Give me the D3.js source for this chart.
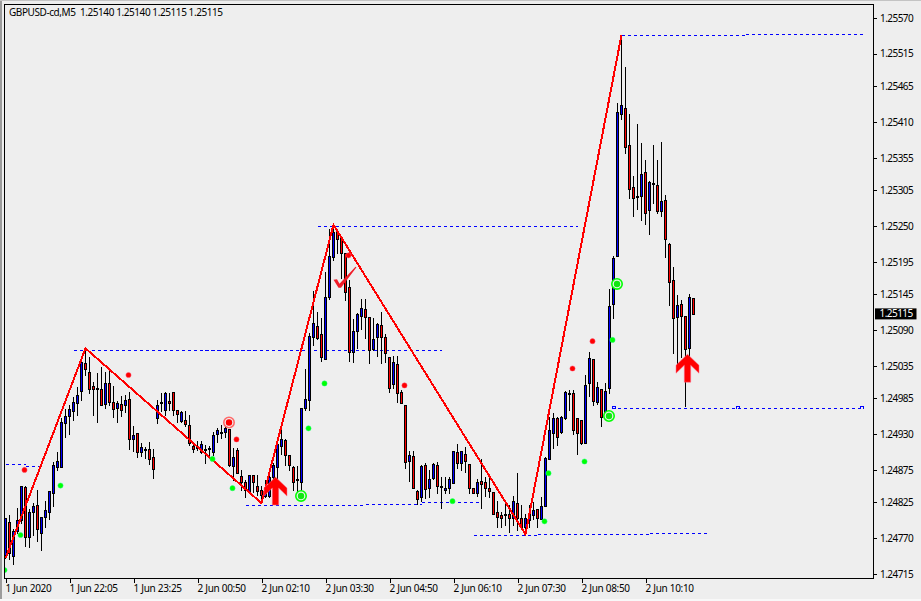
<!DOCTYPE html>
<html>
<head>
<meta charset="utf-8">
<script src="https://cdn.jsdelivr.net/npm/d3@7"></script>
<style>
  html, body { margin: 0; padding: 0; background: #eeeeee; overflow: hidden; }
  svg { display: block; }
  text { font-family: "Noto Sans", sans-serif; font-size: 10px; fill: #000; }
</style>
</head>
<body>
<div id="chart"></div>
<script>
// Prices, one entry per M5 bar
const opens = [
  1.24744,1.24795,1.24742,1.24781,1.24798,1.24849,1.24772,1.24810,1.24821,1.24778,
  1.24802,1.24810,1.24839,1.24879,1.24879,1.24947,1.24958,1.24965,1.24978,1.24996,
  1.25039,1.25025,1.25004,1.25001,1.24999,1.24976,1.25008,1.24979,1.24970,1.24976,
  1.24975,1.24984,1.24922,1.24932,1.24902,1.24907,1.24907,1.24895,1.24955,1.24979,
  1.24967,1.24981,1.24995,1.24967,1.24950,1.24952,1.24944,1.24912,1.24908,1.24902,
  1.24907,1.24908,1.24902,1.24930,1.24933,1.24934,1.24938,1.24881,1.24905,1.24865,
  1.24856,1.24842,1.24867,1.24851,1.24844,1.24835,1.24835,1.24864,1.24879,1.24912,
  1.24921,1.24898,1.24879,1.24861,1.24856,1.24971,1.24982,1.25079,1.25096,1.25084,
  1.25045,1.25141,1.25202,1.25241,1.25231,1.25208,1.25156,1.25056,1.25088,1.25111,
  1.25122,1.25110,1.25061,1.25079,1.25098,1.25079,1.25048,1.25007,1.25038,1.24995,
  1.24975,1.24888,1.24896,1.24842,1.24833,1.24882,1.24847,1.24862,1.24882,1.24850,
  1.24844,1.24847,1.24855,1.24902,1.24885,1.24899,1.24884,1.24848,1.24839,1.24858,
  1.24856,1.24848,1.24841,1.24811,1.24805,1.24807,1.24808,1.24801,1.24824,1.24801,
  1.24787,1.24798,1.24805,1.24815,1.24799,1.24819,1.24892,1.24932,1.24955,1.24933,
  1.24955,1.24993,1.24993,1.24955,1.24952,1.24916,1.25008,1.25045,1.24979,1.24999,
  1.24956,1.25001,1.25130,1.25204,1.25422,1.25431,1.25375,1.25310,1.25296,1.25296,
  1.25333,1.25275,1.25315,1.25313,1.25273,1.25290,1.25222,1.25167,1.25110,1.25130,
  1.25111,1.25062,1.25140
];
const highs = [
  1.24801,1.24805,1.24784,1.24816,1.24851,1.24850,1.24815,1.24824,1.24844,1.24802,
  1.24828,1.24842,1.24887,1.24902,1.24955,1.24968,1.24975,1.24987,1.25002,1.25044,
  1.25062,1.25048,1.25010,1.25024,1.25033,1.25025,1.25031,1.25004,1.24981,1.24988,
  1.24990,1.24995,1.24942,1.24932,1.24916,1.24910,1.24918,1.24907,1.24982,1.24993,
  1.24995,1.24993,1.24995,1.24967,1.24965,1.24965,1.24959,1.24918,1.24919,1.24919,
  1.24913,1.24912,1.24933,1.24939,1.24944,1.24948,1.24938,1.24908,1.24908,1.24875,
  1.24859,1.24868,1.24868,1.24867,1.24851,1.24859,1.24867,1.24885,1.24921,1.24947,
  1.24922,1.24898,1.24881,1.24881,1.24971,1.25030,1.25085,1.25150,1.25118,1.25108,
  1.25179,1.25245,1.25252,1.25244,1.25231,1.25208,1.25167,1.25107,1.25116,1.25138,
  1.25138,1.25110,1.25108,1.25101,1.25118,1.25084,1.25048,1.25051,1.25051,1.24998,
  1.24975,1.24904,1.24904,1.24844,1.24882,1.24885,1.24875,1.24885,1.24887,1.24864,
  1.24864,1.24864,1.24904,1.24915,1.24904,1.24910,1.24884,1.24848,1.24861,1.24892,
  1.24864,1.24867,1.24841,1.24827,1.24810,1.24824,1.24821,1.24835,1.24870,1.24821,
  1.24808,1.24821,1.24825,1.24815,1.24833,1.24895,1.24956,1.24962,1.24956,1.24958,
  1.24996,1.24998,1.24998,1.24955,1.24952,1.25021,1.25056,1.25045,1.25010,1.24999,
  1.25008,1.25153,1.25204,1.25439,1.25544,1.25495,1.25422,1.25327,1.25407,1.25378,
  1.25352,1.25319,1.25375,1.25352,1.25379,1.25298,1.25224,1.25187,1.25144,1.25136,
  1.25111,1.25145,1.25140
];
const lows = [
  1.24739,1.24738,1.24731,1.24778,1.24793,1.24758,1.24756,1.24775,1.24765,1.24752,
  1.24787,1.24799,1.24819,1.24875,1.24879,1.24925,1.24930,1.24952,1.24959,1.24982,
  1.25021,1.24993,1.24959,1.24948,1.24975,1.24970,1.24975,1.24956,1.24948,1.24958,
  1.24964,1.24907,1.24904,1.24895,1.24896,1.24893,1.24884,1.24862,1.24947,1.24965,
  1.24959,1.24967,1.24959,1.24948,1.24948,1.24942,1.24913,1.24902,1.24905,1.24901,
  1.24885,1.24895,1.24898,1.24918,1.24924,1.24925,1.24881,1.24859,1.24870,1.24844,
  1.24833,1.24839,1.24841,1.24836,1.24824,1.24833,1.24833,1.24848,1.24862,1.24899,
  1.24882,1.24875,1.24844,1.24839,1.24839,1.24967,1.24967,1.25067,1.25076,1.25042,
  1.25045,1.25138,1.25198,1.25208,1.25170,1.25136,1.25042,1.25041,1.25062,1.25091,
  1.25078,1.25039,1.25059,1.25050,1.25039,1.25041,1.24995,1.25001,1.24979,1.24978,
  1.24878,1.24858,1.24847,1.24822,1.24827,1.24832,1.24833,1.24861,1.24839,1.24816,
  1.24839,1.24839,1.24855,1.24878,1.24875,1.24872,1.24839,1.24839,1.24835,1.24816,
  1.24835,1.24833,1.24807,1.24787,1.24787,1.24791,1.24779,1.24790,1.24782,1.24787,
  1.24776,1.24787,1.24799,1.24787,1.24799,1.24819,1.24892,1.24908,1.24913,1.24932,
  1.24953,1.24967,1.24931,1.24899,1.24915,1.24916,1.24988,1.24975,1.24976,1.24942,
  1.24955,1.24993,1.25108,1.25204,1.25415,1.25362,1.25293,1.25265,1.25276,1.25259,
  1.25253,1.25238,1.25285,1.25270,1.25265,1.25202,1.25128,1.25055,1.25036,1.25048,
  1.24973,1.25048,1.25115
];
const closes = [
  1.24801,1.24748,1.24781,1.24798,1.24850,1.24772,1.24810,1.24819,1.24784,1.24802,
  1.24813,1.24842,1.24882,1.24888,1.24948,1.24958,1.24968,1.24979,1.24990,1.25041,
  1.25030,1.24999,1.24999,1.25000,1.24975,1.25008,1.24979,1.24968,1.24978,1.24967,
  1.24982,1.24922,1.24928,1.24902,1.24910,1.24906,1.24892,1.24876,1.24975,1.24980,
  1.24993,1.24978,1.24967,1.24961,1.24964,1.24945,1.24916,1.24907,1.24912,1.24915,
  1.24907,1.24908,1.24928,1.24936,1.24933,1.24939,1.24882,1.24895,1.24870,1.24856,
  1.24844,1.24868,1.24856,1.24842,1.24836,1.24841,1.24864,1.24882,1.24915,1.24922,
  1.24898,1.24882,1.24856,1.24861,1.24971,1.24984,1.25081,1.25101,1.25078,1.25048,
  1.25141,1.25204,1.25241,1.25230,1.25208,1.25148,1.25056,1.25088,1.25115,1.25124,
  1.25110,1.25059,1.25076,1.25099,1.25079,1.25055,1.25001,1.25041,1.24993,1.24978,
  1.24887,1.24898,1.24847,1.24830,1.24881,1.24845,1.24861,1.24884,1.24851,1.24851,
  1.24848,1.24861,1.24904,1.24885,1.24904,1.24888,1.24847,1.24839,1.24856,1.24853,
  1.24848,1.24842,1.24808,1.24802,1.24801,1.24806,1.24801,1.24827,1.24801,1.24787,
  1.24801,1.24807,1.24813,1.24801,1.24819,1.24893,1.24936,1.24955,1.24925,1.24956,
  1.24995,1.24994,1.24936,1.24932,1.24916,1.25005,1.25047,1.24981,1.25002,1.24956,
  1.24996,1.25127,1.25201,1.25425,1.25436,1.25372,1.25307,1.25293,1.25297,1.25330,
  1.25270,1.25318,1.25316,1.25273,1.25288,1.25230,1.25164,1.25108,1.25128,1.25111,
  1.25061,1.25141,1.25115
];

// Axis labels
const priceTicks = [1.25570,1.25515,1.25465,1.25410,1.25355,1.25305,1.25250,1.25195,1.25145,
  1.25090,1.25035,1.24985,1.24930,1.24875,1.24825,1.24770,1.24715];
const timeTickIndex = [0,16,32,48,64,80,96,112,128,144,160];
const timeTickLabels = ["1 Jun 2020","1 Jun 22:05","1 Jun 23:25","2 Jun 00:50","2 Jun 02:10",
  "2 Jun 03:30","2 Jun 04:50","2 Jun 06:10","2 Jun 07:30","2 Jun 08:50","2 Jun 10:10"];
const titleText = "GBPUSD-cd,M5  1.25140 1.25140 1.25115 1.25115";
const lastPrice = 1.25115;

// Zigzag pivots
const zigzagIndex = [0,20,64,82,130,154];
const zigzagPrice = [1.24739,1.25062,1.24824,1.25252,1.24776,1.25544];

// Dashed levels: start bar, end bar, price
const levelStart = [0,5,17,60,90,104,78,117,133,161,154,185,151.5];
const levelEnd   = [5,9,109,90,104,119,143,133,161,176,185,215,214];
const levelPrice = [1.24884,1.24881,1.25059,1.24821,1.24822,1.24825,1.25250,1.24775,1.24776,1.24778,1.25544,1.25545,1.24971];
const nickIndex = [151.5,182.5,213.5];
const nickPrice = 1.24971;

// Signal dots
const greenDotIndex = [0,4,14,52,57,76,80,112,135,136,145,152];
const greenDotPrice = [1.24721,1.24775,1.24851,1.24892,1.24847,1.24939,1.25008,1.24827,1.24796,1.24870,1.24888,1.25075];
const redDotIndex = [5,31,58,86,100,142,147];
const redDotPrice = [1.24875,1.25021,1.24922,1.25205,1.25005,1.25031,1.25073];

// Ringed signals
const greenRingIndex = [74,153,151];
const greenRingPrice = [1.24835,1.25161,1.24958];
const redRingIndex = [56];
const redRingPrice = [1.24948];

// Arrows (tip) and the tick mark
const arrowIndex = [67.5,170.5];
const arrowPrice = [1.24864,1.25053];
const checkIndex = [83.5];
const checkPrice = [1.25155];

const width = 921;
const height = 601;
const frame = { left: 4.5, right: 873.5, top: 4.5, bottom: 578.5 };
const bars = d3.range(opens.length);

const svg = d3.select("#chart").append("svg")
    .attr("width", width)
    .attr("height", height);

// One bar is 4px, the bars are not time spaced
const x = d3.scaleLinear().domain([0, 172]).range([5.5, 693.5]);
const y = d3.scaleLinear().domain([1.24715, 1.25570]).range([574, 18]);
const py = p => Math.round(y(p)) + 0.5;
const pyEdge = p => Math.round(y(p));

// Window edges
svg.append("rect").attr("x", 0).attr("y", 0).attr("width", 2).attr("height", height).attr("fill", "#9c9c9c");
svg.append("rect").attr("x", 0).attr("y", 0).attr("width", width).attr("height", 1).attr("fill", "#c4c4c4");
svg.append("rect").attr("x", 0).attr("y", 599).attr("width", width).attr("height", 2).attr("fill", "#f8f8f8");

// Clip so nothing runs past the chart frame
svg.append("clipPath").attr("id", "plot").append("rect")
    .attr("x", frame.left).attr("y", frame.top)
    .attr("width", frame.right - frame.left).attr("height", frame.bottom - frame.top);

const plot = svg.append("g").attr("clip-path", "url(#plot)");

// Dashed levels go under the candles
plot.append("g").selectAll("line")
    .data(levelPrice)
    .join("line")
    .attr("x1", (d, i) => x(levelStart[i]))
    .attr("x2", (d, i) => x(levelEnd[i]))
    .attr("y1", d => py(d))
    .attr("y2", d => py(d))
    .attr("stroke", "#0000ff")
    .attr("stroke-dasharray", "3.5,2.5")
    .attr("shape-rendering", "crispEdges");

plot.append("g").selectAll("path")
    .data(nickIndex)
    .join("path")
    .attr("d", d => `M${Math.round(x(d))},${py(nickPrice)}v-2h3v2`)
    .attr("fill", "none")
    .attr("stroke", "#0000ff")
    .attr("shape-rendering", "crispEdges");

// Wicks
plot.append("g").selectAll("line")
    .data(bars)
    .join("line")
    .attr("x1", d => x(d))
    .attr("x2", d => x(d))
    .attr("y1", d => pyEdge(highs[d]))
    .attr("y2", d => pyEdge(lows[d]) + 1)
    .attr("stroke", "#000")
    .attr("shape-rendering", "crispEdges");

// Bodies, blue when the bar closed higher
plot.append("g").selectAll("rect")
    .data(bars)
    .join("rect")
    .attr("x", d => x(d) - 1)
    .attr("width", 2)
    .attr("y", d => py(Math.max(opens[d], closes[d])))
    .attr("height", d => Math.max(py(Math.min(opens[d], closes[d])) - py(Math.max(opens[d], closes[d])), 1))
    .attr("fill", d => closes[d] >= opens[d] ? "#0000ff" : "#ff0000")
    .attr("stroke", "#000")
    .attr("shape-rendering", "crispEdges");

// Zigzag
const zigzag = d3.line().x(d => x(d)).y((d, i) => y(zigzagPrice[i]));
plot.append("path")
    .attr("d", zigzag(zigzagIndex))
    .attr("fill", "none")
    .attr("stroke", "#ff0000")
    .attr("stroke-width", 2)
    .attr("shape-rendering", "crispEdges");

function dots(idx, prices, color, edge) {
  plot.append("g").selectAll("circle")
      .data(idx)
      .join("circle")
      .attr("cx", d => x(d) - 1)
      .attr("cy", (d, i) => y(prices[i]))
      .attr("r", 2.6)
      .attr("fill", color)
      .attr("stroke", edge)
      .attr("stroke-width", 0.5);
}
dots(greenDotIndex, greenDotPrice, "#00ff00", "#22ff88");
dots(redDotIndex, redDotPrice, "#ff0000", "#ff5577");

function rings(idx, prices, color, outer) {
  const g = plot.append("g").selectAll("g")
      .data(idx)
      .join("g")
      .attr("transform", (d, i) => `translate(${x(d) - 0.5},${y(prices[i])})`);
  g.append("circle").attr("r", 5.2).attr("fill", "#eeeeee").attr("stroke", outer).attr("stroke-width", 1.6);
  g.append("circle").attr("r", 3.2).attr("fill", color);
}
rings(greenRingIndex, greenRingPrice, "#10e810", "#00ff00");
rings(redRingIndex, redRingPrice, "#ff0000", "#ff6a6a");

// Arrow shape, offsets from the tip
const arrowShape = [[0,0],[11.5,11],[11.5,19],[3.2,11],[3.2,28],[-3.2,28],[-3.2,11],[-11.5,19],[-11.5,11]];
plot.append("g").selectAll("polygon")
    .data(arrowIndex)
    .join("polygon")
    .attr("points", arrowShape.map(p => p.join(",")).join(" "))
    .attr("transform", (d, i) => `translate(${x(d)},${y(arrowPrice[i])})`)
    .attr("fill", "#ff0000")
    .attr("stroke", "#ff7090")
    .attr("stroke-width", 0.5);

const checkShape = [[-6,-8],[-2.5,-8.5],[0,-4],[16,-21],[17,-20.5],[1.5,0],[-1,0]];
plot.append("g").selectAll("polygon")
    .data(checkIndex)
    .join("polygon")
    .attr("points", checkShape.map(p => p.join(",")).join(" "))
    .attr("transform", (d, i) => `translate(${x(d)},${y(checkPrice[i])})`)
    .attr("fill", "#f01c28");

// Frame
svg.append("rect")
    .attr("x", frame.left).attr("y", frame.top)
    .attr("width", frame.right - frame.left).attr("height", frame.bottom - frame.top)
    .attr("fill", "none")
    .attr("stroke", "#000")
    .attr("shape-rendering", "crispEdges");

// Price axis, text squeezed a bit to fit the width of the original UI font
const yAxis = g => g
    .attr("transform", `translate(${frame.right},0)`)
    .call(d3.axisRight(y).tickValues(priceTicks).tickSize(3).tickPadding(3.5).tickFormat(d3.format(".5f")))
    .call(g => g.select(".domain").remove())
    .call(g => g.selectAll(".tick line").attr("stroke", "#000").attr("shape-rendering", "crispEdges"))
    .call(g => g.selectAll(".tick text").style("letter-spacing", "-0.55px"));
svg.append("g").call(yAxis);

// Time axis
const xAxis = g => g
    .attr("transform", `translate(0,${frame.bottom})`)
    .call(d3.axisBottom(x).tickValues(timeTickIndex).tickSize(4).tickPadding(2).tickFormat((d, i) => timeTickLabels[i]))
    .call(g => g.select(".domain").remove())
    .call(g => g.selectAll(".tick line").attr("stroke", "#000").attr("shape-rendering", "crispEdges"))
    .call(g => g.selectAll(".tick text").attr("text-anchor", "start").attr("x", -0.5).style("letter-spacing", "-0.3px"));
svg.append("g").call(xAxis);

// Current price box
const lastBox = svg.append("g").attr("transform", `translate(875,${y(lastPrice)})`);
lastBox.append("rect").attr("y", -5.5).attr("width", 41.5).attr("height", 11).attr("fill", "#000");
lastBox.append("text").attr("x", 4.5).attr("dy", "0.35em").style("fill", "#fff").style("letter-spacing", "-0.55px").text(d3.format(".5f")(lastPrice));

// Title
svg.append("text")
    .attr("x", 9)
    .attr("y", 16)
    .attr("xml:space", "preserve")
    .style("white-space", "pre")
    .style("letter-spacing", "-0.42px")
    .text(titleText);
</script>
</body>
</html>
